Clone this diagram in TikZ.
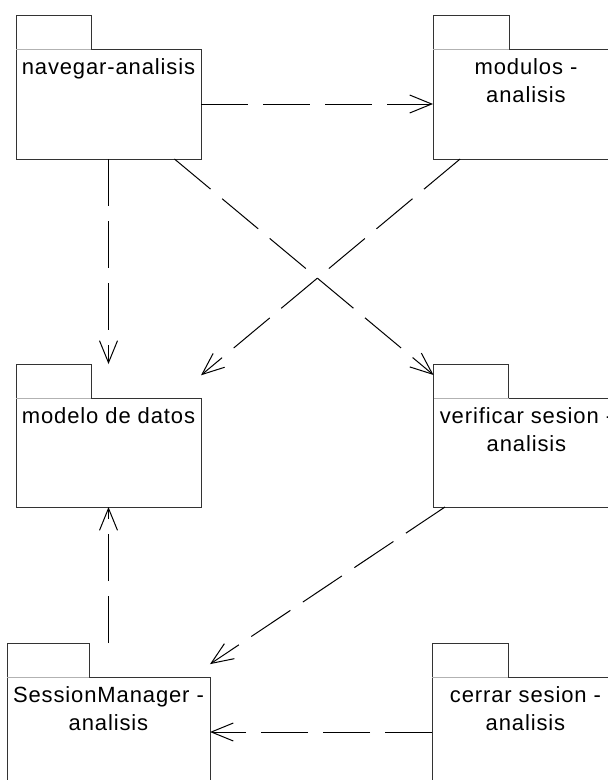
\documentclass[tikz,border=0pt]{standalone}
\usepackage{fontspec}
\setmainfont{Liberation Sans}[LetterSpace=4]
\usetikzlibrary{arrows.meta,calc,intersections}

\tikzset{
  pkgframe/.style={draw=none, rectangle, inner sep=0pt, outer sep=0pt},
  pkgline/.style={draw=black!80, line width=1pt},
  tabline/.style={draw=black!30, line width=1pt},
  pkgtext/.style={align=center, inner sep=0pt, font=\fontsize{22}{28.4}\selectfont},
  dep/.style={draw=black, line width=1pt, dash pattern=on 47pt off 15pt,
    -{Straight Barb[length=22pt, width=18pt, line width=1pt]}},
}

% UML package: name, top-left corner, width, height, tab width, label
\newcommand\umlpackage[6]{%
  \node[pkgframe, minimum width=#3pt, minimum height=#4pt, anchor=north west] (#1) at (#2) {};
  \draw[pkgline] (#1.south west) -- (#1.north west) -- ++(#5,0)
    |- ($(#1.north east)+(0,34)$) -- (#1.south east) -- cycle;
  \draw[tabline] ($(#1.north west)+(0,34)$) -- ++(#5,0);
  \coordinate (#1-c) at ($(#1.center)+(0,17)$);
  \path[name path=#1-edge] (#1.north west) rectangle (#1.south east);
  \node[pkgtext, anchor=north] (#1-label) at ($(#1.north)+(0,39.4)$) {\strut #6};
}

% dependency: dashed line between the body centres, cut at the package frames
\newcommand\depend[2]{%
  \path[name path=dep-line] (#1-c) -- (#2-c);
  \path[name intersections={of=dep-line and #1-edge, by=dep-start}];
  \path[name intersections={of=dep-line and #2-edge, by=dep-end}];
  \draw[dep] (dep-start) -- (dep-end);
}

\begin{document}
\begin{tikzpicture}[x=1pt, y=-1pt]
  \useasboundingbox (0,0) rectangle (608,780);
  \fill[white] (0,0) rectangle (608,780);

  \umlpackage{nav}{16,15}{185}{144}{75}{navegar-analisis}
  \umlpackage{mod}{433,15}{186}{144}{76}{modulos -\\analisis}
  \umlpackage{mdl}{16,364}{185}{143}{75}{modelo de datos}
  \umlpackage{ver}{433.5,364}{186}{143}{75}{verificar sesion -\\analisis}
  \umlpackage{sm}{7,643}{203}{144}{82}{SessionManager -\\analisis}
  \umlpackage{cer}{432,643}{187}{144}{76}{cerrar sesion -\\analisis}

  \depend{nav}{mod}
  \depend{nav}{mdl}
  \depend{nav}{ver}
  \depend{mod}{mdl}
  \depend{ver}{sm}
  \depend{sm}{mdl}
  \depend{cer}{sm}
\end{tikzpicture}
\end{document}
